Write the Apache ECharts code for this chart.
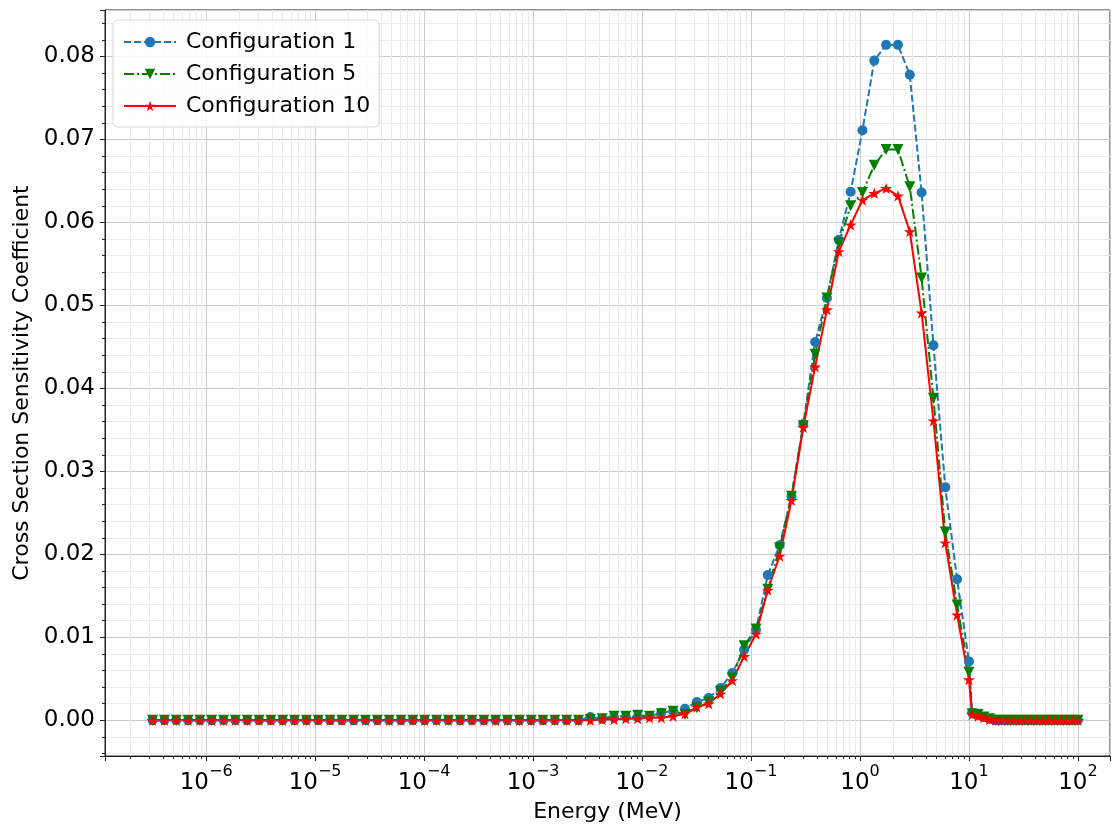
<!DOCTYPE html>
<html>
<head>
<meta charset="utf-8">
<script src="https://cdn.jsdelivr.net/npm/echarts@6/dist/echarts.min.js"></script>
<style>
  html, body { margin: 0; padding: 0; background: #fff; }
  #chart { width: 1112px; height: 825px; }
</style>
</head>
<body>
<div id="chart"></div>
<script>
// energy grid (MeV), ascending
const energy = [
  3.224e-7, 4.140e-7, 5.316e-7, 6.826e-7, 8.764e-7, 1.125e-6, 1.445e-6, 1.855e-6, 2.382e-6, 3.059e-6,
  3.928e-6, 5.043e-6, 6.476e-6, 8.315e-6, 1.068e-5, 1.371e-5, 1.760e-5, 2.260e-5, 2.902e-5, 3.727e-5,
  4.785e-5, 6.144e-5, 7.889e-5, 1.013e-4, 1.301e-4, 1.670e-4, 2.144e-4, 2.754e-4, 3.536e-4, 4.540e-4,
  5.829e-4, 7.485e-4, 9.611e-4, 1.234e-3, 1.585e-3, 2.035e-3, 2.613e-3, 3.355e-3, 4.307e-3, 5.531e-3,
  7.102e-3, 9.119e-3, 1.171e-2, 1.503e-2, 1.930e-2, 2.479e-2, 3.183e-2, 4.087e-2, 5.248e-2, 6.738e-2,
  8.652e-2, 0.1111, 0.1426, 0.1832, 0.2352, 0.3020, 0.3877, 0.4979, 0.6393, 0.8209,
  1.054, 1.353, 1.738, 2.231, 2.865, 3.679, 4.724, 6.065, 7.788, 10.0,
  10.7, 12.1, 13.7, 15.5, 17.6, 19.9, 22.5, 25.5, 28.9, 32.7,
  37.1, 42.0, 47.5, 53.8, 61.0, 69.0, 78.2, 88.5, 100
];

const config1 = [
  0, 0, 0, 0, 0, 0, 0, 0, 0, 0,
  0, 0, 0, 0, 0, 0, 0, 0, 0, 0,
  0, 0, 0, 0, 0, 0, 0, 0, 0, 0,
  0, 0, 0, 0, 0, 0, 0, 0.0004, 0.0002, 0.0003,
  0.0004, 0.0004, 0.0005, 0.0009, 0.0011, 0.0014, 0.0022, 0.0027, 0.0039, 0.0057,
  0.0085, 0.0109, 0.0175, 0.0211, 0.0270, 0.0357, 0.0456, 0.0509, 0.0579, 0.0637,
  0.0711, 0.0795, 0.0814, 0.0814, 0.0778, 0.0636, 0.0452, 0.0281, 0.0170, 0.0071,
  0.0009, 0.0007, 0.0004, 0.0002, 0, 0, 0, 0, 0, 0,
  0, 0, 0, 0, 0, 0, 0, 0, 0
];

const config5 = [
  0, 0, 0, 0, 0, 0, 0, 0, 0, 0,
  0, 0, 0, 0, 0, 0, 0, 0, 0, 0,
  0, 0, 0, 0, 0, 0, 0, 0, 0, 0,
  0, 0, 0, 0, 0, 0, 0, 0.0001, 0.0002, 0.0005,
  0.0005, 0.0006, 0.0005, 0.0008, 0.0011, 0.0007, 0.0015, 0.0022, 0.0035, 0.0051,
  0.0090, 0.0110, 0.0158, 0.0208, 0.0270, 0.0355, 0.0441, 0.0509, 0.0575, 0.0620,
  0.0636, 0.0669, 0.0688, 0.0688, 0.0643, 0.0533, 0.0388, 0.0227, 0.0139, 0.0058,
  0.0008, 0.0007, 0.0004, 0.0002, 0, 0, 0, 0, 0, 0,
  0, 0, 0, 0, 0, 0, 0, 0, 0
];

const config10 = [
  0, 0, 0, 0, 0, 0, 0, 0, 0, 0,
  0, 0, 0, 0, 0, 0, 0, 0, 0, 0,
  0, 0, 0, 0, 0, 0, 0, 0, 0, 0,
  0, 0, 0, 0, 0, 0, 0, 0, 0.0001, 0.0001,
  0.0002, 0.0002, 0.0003, 0.0003, 0.0005, 0.0008, 0.0016, 0.0020, 0.0032, 0.0048,
  0.0077, 0.0104, 0.0157, 0.0198, 0.0265, 0.0353, 0.0426, 0.0495, 0.0565, 0.0597,
  0.0627, 0.0635, 0.0641, 0.0632, 0.0589, 0.0491, 0.0361, 0.0214, 0.0127, 0.0049,
  0.0007, 0.0005, 0.0003, 0.0001, 0, 0, 0, 0, 0, 0,
  0, 0, 0, 0, 0, 0, 0, 0, 0
];

const seriesNames = ['Configuration 1', 'Configuration 5', 'Configuration 10'];

const X_MIN = 1.18e-7;
const X_MAX = 197;
const Y_MIN = -0.0043;
const Y_MAX = 0.0856;

// minor log ticks at 2..9 x 10^n
const minorX = [];
for (let d = -7; d <= 2; d++) {
  for (let m = 2; m <= 9; m++) {
    const v = m * Math.pow(10, d);
    if (v > X_MIN && v < X_MAX) minorX.push(v);
  }
}

const STAR = 'path://M10,0 L12.25,6.91 L19.51,6.91 L13.63,11.18 L15.88,18.09 L10,13.82 L4.12,18.09 L6.37,11.18 L0.49,6.91 L7.75,6.91 Z';

function pairs(vals) {
  return energy.map((e, i) => [e, vals[i]]);
}

const chart = echarts.init(document.getElementById('chart'));

const option = {
  animation: false,
  backgroundColor: '#fff',
  textStyle: { fontFamily: 'DejaVu Sans', color: '#000' },
  grid: {
    left: 105, right: 2, top: 10, bottom: 69,
    show: true, borderColor: '#222', borderWidth: 1,
    containLabel: false, outerBoundsMode: 'none'
  },
  legend: {
    data: seriesNames,
    orient: 'vertical',
    left: 113, top: 20,
    itemWidth: 52, itemHeight: 13, itemGap: 8,
    padding: [10, 9, 9, 10],
    backgroundColor: 'rgba(255,255,255,0.85)',
    borderColor: '#d6d6d6', borderWidth: 1, borderRadius: 5,
    textStyle: { fontFamily: 'DejaVu Sans', fontSize: 22, color: '#000', lineHeight: 24, padding: [0, 0, 0, 5] }
  },
  xAxis: {
    type: 'log', logBase: 10, min: X_MIN, max: X_MAX,
    name: 'Energy (MeV)', nameLocation: 'middle', nameGap: 45,
    nameTextStyle: { fontFamily: 'DejaVu Sans', fontSize: 22, color: '#000' },
    axisLine: { show: true, onZero: false, lineStyle: { color: '#222', width: 1 } },
    axisTick: { show: true, inside: false, length: 5, lineStyle: { color: '#222' } },
    splitLine: { show: true, lineStyle: { color: '#cccccc', width: 1 } },
    axisLabel: {
      margin: 8,
      formatter: function (v) {
        const p = Math.log10(v);
        if (Math.abs(p - Math.round(p)) > 0.01) return '';
        const n = Math.round(p);
        return '{b|10}{s|' + (n < 0 ? '\u2212' + (-n) : n) + '}';
      },
      rich: {
        b: { fontFamily: 'DejaVu Sans', fontSize: 23, color: '#000', lineHeight: 31, verticalAlign: 'bottom' },
        s: { fontFamily: 'DejaVu Sans', fontSize: 16, color: '#000', lineHeight: 16, verticalAlign: 'top' }
      }
    }
  },
  yAxis: {
    type: 'value', min: Y_MIN, max: Y_MAX, splitNumber: 9,
    name: 'Cross Section Sensitivity Coefficient', nameLocation: 'middle', nameGap: 70, nameRotate: 90,
    nameTextStyle: { fontFamily: 'DejaVu Sans', fontSize: 22, color: '#000' },
    axisLine: { show: true, onZero: false, lineStyle: { color: '#222', width: 1 } },
    axisTick: { show: true, inside: false, length: 5, lineStyle: { color: '#222' } },
    minorTick: { show: true, splitNumber: 5, length: 3, lineStyle: { color: '#222' } },
    splitLine: { show: true, lineStyle: { color: '#cccccc', width: 1 } },
    minorSplitLine: { show: true, lineStyle: { color: '#ebebeb', width: 1 } },
    axisLabel: {
      margin: 10, fontFamily: 'DejaVu Sans', fontSize: 23, color: '#000',
      padding: [4, 0, 0, 0],
      formatter: function (v) {
        const r = Math.round(v * 100);
        if (Math.abs(v * 100 - r) > 0.01) return '';
        return (r / 100).toFixed(2);
      }
    }
  },
  series: [
    {
      name: 'minor',
      type: 'custom',
      silent: true,
      clip: false,
      z: 1,
      data: minorX.map(v => [v, 0]),
      renderItem: function (params, api) {
        const cs = params.coordSys;
        const x = Math.round(api.coord([api.value(0), 0])[0]) + 0.5;
        return {
          type: 'group',
          children: [
            { type: 'line', shape: { x1: x, y1: cs.y, x2: x, y2: cs.y + cs.height }, style: { stroke: '#ebebeb', lineWidth: 1 } },
            { type: 'line', shape: { x1: x, y1: cs.y + cs.height, x2: x, y2: cs.y + cs.height + 3 }, style: { stroke: '#222', lineWidth: 1 } }
          ]
        };
      }
    },
    {
      name: seriesNames[0], type: 'line', data: pairs(config1),
      symbol: 'circle', symbolSize: 10, showAllSymbol: true,
      lineStyle: { color: '#1f77b4', width: 2, type: [7, 3] },
      itemStyle: { color: '#1f77b4', borderWidth: 0 }
    },
    {
      name: seriesNames[1], type: 'line', data: pairs(config5),
      symbol: 'triangle', symbolRotate: 180, symbolSize: 11, showAllSymbol: true,
      lineStyle: { color: '#008000', width: 2, type: [10, 3, 2, 3] },
      itemStyle: { color: '#008000', borderWidth: 0 }
    },
    {
      name: seriesNames[2], type: 'line', data: pairs(config10),
      symbol: STAR, symbolKeepAspect: true, symbolSize: 12, showAllSymbol: true,
      lineStyle: { color: '#ff0000', width: 2, type: 'solid' },
      itemStyle: { color: '#ff0000', borderWidth: 0 }
    }
  ]
};

chart.setOption(option);
</script>
</body>
</html>
